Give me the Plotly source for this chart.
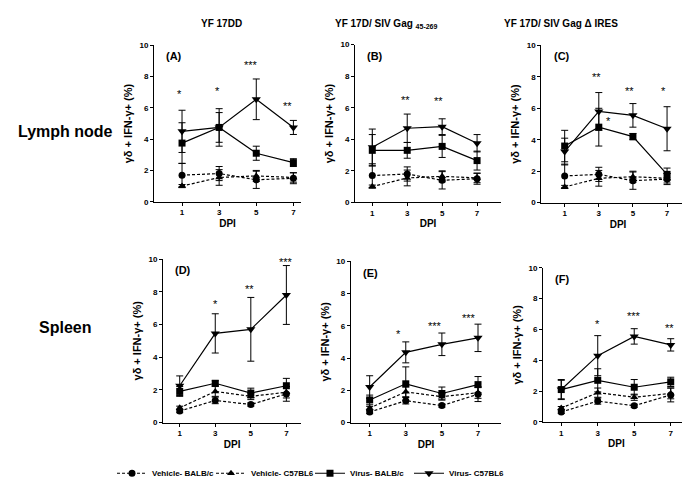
import plotly.graph_objects as go

days = [1, 3, 5, 7]
panel_labels = ["(A)", "(B)", "(C)", "(D)", "(E)", "(F)"]
series_names = ["Vehicle- BALB/c", "Vehicle- C57BL6", "Virus- BALB/c", "Virus- C57BL6"]

# Vehicle BALB/c (circle)
veh_balb_mean = [[1.7, 1.8, 1.4, 1.5], [1.7, 1.8, 1.4, 1.5], [1.7, 1.8, 1.4, 1.5],
                 [0.7, 1.35, 1.1, 1.75], [0.65, 1.35, 1.05, 1.75], [0.65, 1.35, 1.05, 1.75]]
veh_balb_err = [[0.75, 0.45, 0.55, 0.35], [0.75, 0.45, 0.55, 0.35], [0.75, 0.45, 0.55, 0.35],
                [0.1, 0.2, 0.1, 0.45], [0.1, 0.2, 0.1, 0.45], [0.1, 0.2, 0.1, 0.45]]
# Vehicle C57BL6 (triangle up)
veh_c57_mean = [[1.0, 1.55, 1.65, 1.55], [1.0, 1.55, 1.65, 1.55], [1.0, 1.55, 1.65, 1.55],
                [0.9, 1.9, 1.6, 1.85], [0.9, 1.9, 1.6, 1.85], [0.9, 1.9, 1.6, 1.85]]
veh_c57_err = [[0.1, 0.5, 0.35, 0.3], [0.1, 0.5, 0.35, 0.3], [0.1, 0.5, 0.35, 0.3],
               [0.1, 0.3, 0.2, 0.35], [0.1, 0.3, 0.2, 0.35], [0.1, 0.3, 0.2, 0.35]]
# Virus BALB/c (square)
vir_balb_mean = [[3.75, 4.75, 3.1, 2.5], [3.3, 3.3, 3.55, 2.65], [3.6, 4.8, 4.2, 1.8],
                 [1.9, 2.4, 1.8, 2.25], [1.4, 2.4, 1.8, 2.35], [2.1, 2.7, 2.25, 2.6]]
vir_balb_err = [[1.3, 0.95, 0.45, 0.25], [1.0, 0.5, 0.7, 0.6], [1.0, 1.2, 0.2, 0.4],
                [0.3, 0.15, 0.3, 0.45], [0.3, 1.05, 0.4, 0.5], [0.6, 0.75, 0.5, 0.3]]
# Virus C57BL6 (triangle down)
vir_c57_mean = [[4.5, 4.75, 6.55, 4.75], [3.5, 4.7, 4.8, 3.75], [3.25, 5.8, 5.55, 4.7],
                [2.25, 5.45, 5.7, 7.8], [2.2, 4.35, 4.85, 5.25], [2.1, 4.3, 5.55, 5.0]]
vir_c57_err = [[1.35, 1.2, 1.3, 0.45], [1.15, 0.9, 0.5, 0.55], [0.85, 1.2, 0.75, 1.4],
               [0.6, 1.2, 1.95, 1.8], [0.7, 0.65, 0.7, 0.85], [0.65, 1.3, 0.5, 0.4]]

# significance marks: (text, x, y) per panel
star_text = [["*", "*", "***", "**"], ["**", "**"], ["**", "*", "**", "*"],
             ["*", "**", "***"], ["*", "***", "***"], ["*", "***", "**"]]
star_x = [[0.88, 2.9, 4.74, 6.7], [2.9, 4.8], [2.85, 3.54, 4.81, 6.8],
          [3.0, 4.94, 7.0], [2.57, 4.6, 6.5], [2.97, 5.0, 6.95]]
star_y = [[6.9, 7.05, 8.75, 6.1], [6.5, 6.4], [8.0, 5.2, 7.07, 7.07],
          [7.26, 8.14, 9.84], [5.5, 6.0, 6.5], [6.37, 6.86, 6.07]]

col_titles = ["YF 17DD", "YF 17D/ SIV Gag <sub>45-269</sub>", "YF 17D/ SIV Gag \u0394 IRES"]
row_titles = ["Lymph node", "Spleen"]
y_title = "\u03b3\u03b4 + IFN-\u03b3+ (%)"
x_title = "DPI"

W, H = 690, 483
# layout: pixel boxes (left, right, top, bottom) and x ranges
boxes = [(146, 293, 34, 193.3), (347, 493, 33.3, 194), (533.3, 686.7, 34, 194.3),
         (155, 293.3, 251.7, 418.3), (342.7, 493.3, 254, 418.3), (535, 681.7, 260.7, 417.7)]
xranges = [[-0.51, 7.41], [0.01, 8.37], [-0.37, 8.62], [0.06, 7.84], [-0.05, 8.29], [0.0, 8.04]]

FONT = "Liberation Sans, Arial, sans-serif"
fig = go.Figure()

styles = [
    dict(symbol="circle", size=7, dash="3px,2px"),
    dict(symbol="triangle-up", size=7, dash="3px,2px"),
    dict(symbol="square", size=7, dash="solid"),
    dict(symbol="triangle-down", size=8, dash="solid"),
]
means = [veh_balb_mean, veh_c57_mean, vir_balb_mean, vir_c57_mean]
errs = [veh_balb_err, veh_c57_err, vir_balb_err, vir_c57_err]

annotations = []
for p in range(6):
    ax = "" if p == 0 else str(p + 1)
    for s in range(4):
        st = styles[s]
        fig.add_trace(go.Scatter(
            x=days, y=means[s][p], mode="lines+markers",
            name=series_names[s], showlegend=(p == 0), legendgroup=series_names[s],
            line=dict(color="black", width=1.2, dash=st["dash"]),
            marker=dict(symbol=st["symbol"], size=st["size"], color="black"),
            error_y=dict(type="data", array=errs[s][p], color="black", thickness=1, width=3.5),
            xaxis="x" + ax, yaxis="y" + ax, cliponaxis=False,
        ))
    l, r, t, b = boxes[p]
    fig.layout["xaxis" + ax] = dict(
        domain=[l / W, r / W], range=xranges[p], anchor="y" + ax,
        tickvals=days, ticks="outside", ticklen=3, tickwidth=1, tickcolor="black",
        showline=True, linecolor="black", linewidth=1, showgrid=False, zeroline=False,
        tickfont=dict(family=FONT, size=8, color="black", weight="bold"),
        title=dict(text="<b>" + x_title + "</b>", font=dict(family=FONT, size=10, color="black"), standoff=3),
    )
    fig.layout["yaxis" + ax] = dict(
        domain=[1 - b / H, 1 - t / H], range=[0, 10], anchor="x" + ax,
        tickvals=[0, 2, 4, 6, 8, 10], ticks="outside", ticklen=3, tickwidth=1, tickcolor="black",
        showline=True, linecolor="black", linewidth=1, showgrid=False, zeroline=False,
        tickfont=dict(family=FONT, size=8, color="black", weight="bold"),
        title=dict(text="<b>" + y_title + "</b>", font=dict(family=FONT, size=11, color="black"), standoff=4),
    )
    annotations.append(dict(text="<b>" + panel_labels[p] + "</b>", xref="x" + ax + " domain",
                            yref="y" + ax + " domain", x=0.07, y=0.93, xanchor="left", yanchor="middle",
                            showarrow=False, font=dict(family=FONT, size=11, color="black")))
    for txt, sx, sy in zip(star_text[p], star_x[p], star_y[p]):
        annotations.append(dict(text=txt, xref="x" + ax, yref="y" + ax, x=sx, y=sy,
                                xanchor="center", yanchor="middle",
                                showarrow=False, font=dict(family=FONT, size=11, color="black")))

col_x = [213, 378, 553]
for cx, ct in zip(col_x, col_titles):
    annotations.append(dict(text="<b>" + ct + "</b>", xref="paper", yref="paper", x=cx / W, y=1 - 12 / H,
                            xanchor="center", yanchor="middle",
                            showarrow=False, font=dict(family=FONT, size=10, color="black")))
for ry, rt in zip([121.7, 321.7], row_titles):
    annotations.append(dict(text="<b>" + rt + "</b>", xref="paper", yref="paper", x=57 / W, y=1 - ry / H,
                            xanchor="center", yanchor="middle",
                            showarrow=False, font=dict(family=FONT, size=16, color="black")))

fig.update_layout(
    width=W, height=H, margin=dict(l=0, r=0, t=0, b=0),
    paper_bgcolor="white", plot_bgcolor="white",
    annotations=annotations,
    legend=dict(orientation="h", x=104 / W, y=1 - 470 / H, xanchor="left", yanchor="middle",
                entrywidth=54, entrywidthmode="pixels", font=dict(family=FONT, size=8, color="black", weight="bold"),
                bgcolor="rgba(0,0,0,0)", itemwidth=30, tracegroupgap=0),
)
fig.write_html("out.html")
